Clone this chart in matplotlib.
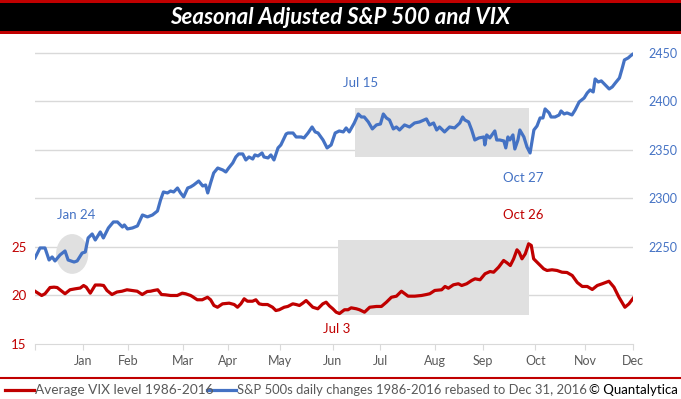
import numpy as np
import matplotlib
matplotlib.use('Agg')
import matplotlib.pyplot as plt
from matplotlib.patches import Rectangle, Ellipse
from matplotlib.lines import Line2D

plt.rcParams['font.family'] = ['Lato', 'DejaVu Sans']

# Month labels placed at the last trading day of each month
MONTHS = ['Jan', 'Feb', 'Mar', 'Apr', 'May', 'Jun', 'Jul', 'Aug', 'Sep', 'Oct', 'Nov', 'Dec']
TRADING_DAYS = [20, 19, 23, 19, 22, 22, 20, 23, 20, 22, 21, 20]

# S&P 500 seasonal path (trading day, index level)
SPX_DAY = [0, 2.1, 4.2, 5.9, 7.2, 8.4, 10.5, 12.6, 13.9, 16.4, 17.7, 19.8, 21.1, 22.3, 24.0,
           25.3, 27.4, 28.7, 30.8, 32.9, 34.6, 36.7, 37.5, 38.8, 40.9, 43.0, 45.1, 47.2, 49.3,
           51.4, 52.7, 53.9, 55.6, 56.9, 58.2, 59.8, 61.1, 62.4, 64.1, 65.3, 66.6, 68.7, 70.4,
           71.6, 72.5, 73.7, 75.0, 76.7, 78.8, 80.1, 81.3, 83.0, 84.3, 85.5, 87.2, 88.5, 89.8,
           91.4, 92.3, 93.6, 95.3, 96.1, 97.8, 99.0, 100.3, 102.0, 103.2, 105.4, 106.2, 108.3,
           109.6, 111.7, 112.9, 114.6, 116.3, 117.6, 118.8, 120.9, 122.6, 124.3, 126.0, 127.7,
           129.4, 130.6, 131.9, 134.0, 135.7, 137.0, 138.2, 139.9, 141.6, 143.3, 145.0, 146.2,
           147.5, 148.8, 150.4, 151.7, 153.0, 155.1, 157.2, 159.3, 161.4, 164.3, 165.6, 167.3,
           168.6, 169.8, 171.9, 174.0, 176.1, 178.3, 179.5, 180.4, 182.0, 183.3, 184.6, 186.3,
           188.4, 188.8, 189.6, 190.9, 193.0, 193.8, 195.1, 196.8, 197.6, 198.5, 199.3, 200.6,
           201.4, 202.7, 203.5, 205.2, 206.5, 207.8, 209.4, 210.7, 212.0, 213.2, 214.1, 215.8,
           216.6, 218.3, 220.0, 220.8, 222.1, 223.3, 225.4, 226.7, 228.4, 230.5, 231.8, 233.0,
           234.3, 235.1, 236.4, 237.7, 239.4, 241.0, 242.3, 243.6, 245.3, 246.5, 247.4, 249.0,
           249.9, 251.0, 251.6]
SPX_VALUE = [2238.7, 2249.0, 2249.0, 2236.6, 2239.7, 2235.6, 2241.8, 2245.9, 2236.6, 2234.5,
             2235.6, 2243.8, 2244.8, 2259.3, 2263.4, 2257.2, 2265.5, 2259.3, 2269.6, 2275.8,
             2275.8, 2270.6, 2272.7, 2268.6, 2269.6, 2271.7, 2283.0, 2281.0, 2283.0, 2287.1,
             2298.5, 2306.7, 2305.7, 2307.7, 2306.7, 2310.8, 2305.7, 2301.6, 2310.8, 2311.9,
             2313.9, 2318.0, 2312.9, 2313.9, 2305.7, 2316.0, 2326.3, 2331.4, 2329.4, 2327.3,
             2331.4, 2336.6, 2342.8, 2345.9, 2345.9, 2339.7, 2342.8, 2340.7, 2344.9, 2343.8,
             2346.9, 2342.8, 2341.8, 2344.9, 2339.7, 2352.1, 2355.2, 2366.5, 2367.5, 2367.5,
             2363.4, 2363.4, 2362.4, 2367.5, 2373.7, 2368.6, 2367.5, 2360.3, 2352.1, 2355.2,
             2367.5, 2369.6, 2368.6, 2372.7, 2368.6, 2377.8, 2387.1, 2384.0, 2384.0, 2378.9,
             2371.7, 2375.8, 2376.8, 2387.1, 2383.0, 2380.9, 2371.7, 2373.7, 2370.6, 2375.8,
             2373.7, 2377.8, 2378.9, 2382.0, 2375.8, 2377.8, 2370.6, 2373.7, 2368.6, 2373.7,
             2372.7, 2377.8, 2384.0, 2380.9, 2378.9, 2370.6, 2360.3, 2362.4, 2363.4, 2355.2,
             2365.5, 2362.4, 2369.6, 2360.3, 2360.3, 2359.3, 2352.1, 2363.4, 2360.3, 2365.5,
             2351.0, 2360.3, 2370.6, 2363.4, 2353.1, 2346.9, 2370.6, 2374.7, 2383.0, 2383.0,
             2392.3, 2388.2, 2384.0, 2384.0, 2386.1, 2390.2, 2387.1, 2388.2, 2386.1, 2391.2,
             2399.5, 2403.6, 2408.8, 2411.9, 2409.8, 2423.2, 2420.1, 2421.2, 2417.0, 2412.9,
             2415.0, 2419.1, 2424.2, 2434.5, 2442.8, 2444.9, 2446.9, 2449.0, 2448.0]

# Average VIX seasonal path (trading day, VIX level)
VIX_DAY = [0, 2.8, 4.2, 6.3, 8.0, 9.3, 10.5, 12.6, 14.7, 16.9, 19.0, 20.4, 21.5, 23.2, 25.3,
           27.4, 28.8, 30.2, 32.3, 34.4, 36.5, 38.6, 40.7, 42.9, 45.0, 47.1, 48.5, 49.9, 51.5,
           53.1, 54.8, 56.9, 59.7, 61.8, 63.2, 65.3, 66.0, 68.1, 70.2, 72.4, 73.7, 75.1, 76.6,
           78.7, 81.5, 83.6, 85.0, 86.4, 87.8, 89.2, 91.3, 92.7, 94.1, 95.5, 97.6, 99.7, 101.1,
           102.5, 104.6, 106.1, 108.2, 109.6, 111.0, 112.4, 113.8, 115.2, 116.6, 118.7, 120.8,
           122.2, 123.6, 125.0, 126.4, 127.8, 129.9, 131.4, 132.7, 134.9, 136.2, 138.3, 140.5,
           143.3, 145.4, 147.5, 149.6, 151.7, 153.8, 155.2, 156.6, 159.4, 162.2, 164.3, 165.7,
           167.8, 170.7, 172.1, 173.5, 175.6, 177.7, 179.1, 181.2, 183.3, 184.7, 186.8, 188.9,
           191.0, 192.5, 194.6, 196.7, 198.1, 199.5, 200.9, 202.3, 203.2, 204.4, 205.8, 207.2,
           208.3, 209.3, 211.4, 213.5, 214.9, 217.0, 219.1, 221.2, 223.3, 225.5, 227.6, 229.7,
           231.8, 233.9, 236.0, 238.1, 240.9, 243.0, 245.1, 247.6, 249.3, 251.4]
VIX_VALUE = [20.44, 20.00, 20.18, 20.82, 20.86, 20.82, 20.59, 20.18, 20.59, 20.69, 20.77, 21.03,
             20.86, 20.24, 21.08, 21.08, 21.03, 20.52, 20.10, 20.36, 20.44, 20.59, 20.52, 20.44,
             20.10, 20.41, 20.44, 20.52, 20.59, 20.10, 20.07, 20.00, 20.00, 20.24, 20.18, 20.00,
             19.90, 19.56, 19.56, 19.82, 19.56, 18.97, 18.79, 19.14, 19.21, 19.07, 18.79, 19.14,
             19.66, 19.41, 19.41, 19.56, 19.14, 19.07, 19.07, 18.79, 18.45, 18.53, 18.79, 18.87,
             19.14, 19.07, 18.97, 19.21, 19.48, 19.14, 18.79, 18.63, 19.14, 19.31, 18.92, 18.63,
             18.28, 18.14, 18.53, 18.53, 18.73, 18.63, 18.53, 18.28, 18.79, 18.87, 18.87, 19.31,
             19.82, 19.93, 20.44, 20.18, 19.93, 19.93, 20.00, 20.10, 20.18, 20.52, 20.59, 20.93,
             20.75, 21.10, 21.21, 21.03, 21.21, 21.55, 21.72, 21.62, 22.24, 22.47, 22.40, 22.92,
             23.61, 23.37, 23.09, 23.78, 24.71, 24.46, 23.78, 24.30, 25.33, 25.16, 23.78, 23.27,
             22.75, 22.58, 22.65, 22.58, 22.40, 22.37, 22.06, 21.34, 20.93, 20.93, 20.62, 21.03,
             21.21, 21.47, 20.86, 19.82, 18.79, 19.14, 19.82]

VIX_TICKS = [15, 20, 25]
SPX_TICKS = [2250, 2300, 2350, 2400, 2450]

RED = '#c00000'
BLUE = '#4472c4'
GRID = '#d9d9d9'
SHADE = '#e0e0e0'

fig = plt.figure(figsize=(6.81, 3.99), dpi=100)

# Title band with red borders
fig.patches.append(Rectangle((0, 1 - 34 / 399), 1, 34 / 399, transform=fig.transFigure,
                             facecolor='black', edgecolor='none'))
fig.patches.append(Rectangle((0, 1 - 3 / 399), 1, 3 / 399, transform=fig.transFigure,
                             facecolor=RED, edgecolor='none'))
fig.patches.append(Rectangle((0, 1 - 34 / 399), 1, 3 / 399, transform=fig.transFigure,
                             facecolor=RED, edgecolor='none'))
fig.text(0.5, 1 - 18 / 399, 'Seasonal Adjusted S&P 500 and VIX', color='white',
         fontsize=16, fontweight='bold', fontstyle='italic', ha='center', va='center')

ax = fig.add_axes([35 / 681, 55 / 399, 598 / 681, 302 / 399])
ax2 = ax.twinx()

ticks = np.cumsum(TRADING_DAYS)
ax.set_xlim(0, ticks[-1])
ax.set_ylim(15, 46.13)
ax2.set_ylim(2150, 2461.3)

# horizontal gridlines (shared by both scales)
for g in range(20, 50, 5):
    ax.axhline(g, color=GRID, lw=1, zorder=0)

# highlighted regions
ax.add_patch(Rectangle((127.3, 18.04), 80, 7.73, facecolor=SHADE, edgecolor='none', zorder=1))
ax2.add_patch(Rectangle((134.4, 2342.8), 72.9, 50.5, facecolor=SHADE, edgecolor='none', zorder=1))
ax2.add_patch(Ellipse((15.6, 2242.8), 13.5, 41, facecolor=SHADE, edgecolor='none', zorder=1))

ax.plot(VIX_DAY, VIX_VALUE, color=RED, lw=2.3, zorder=3, solid_joinstyle='round')
ax2.plot(SPX_DAY, SPX_VALUE, color=BLUE, lw=2.3, zorder=3, solid_joinstyle='round')

# annotations
ax2.text(17.3, 2283, 'Jan 24', color=BLUE, fontsize=9.5, ha='center', va='center')
ax2.text(136.5, 2419, 'Jul 15', color=BLUE, fontsize=9.5, ha='center', va='center')
ax2.text(204.8, 2321, 'Oct 27', color=BLUE, fontsize=9.5, ha='center', va='center')
ax.text(204.8, 28.25, 'Oct 26', color=RED, fontsize=9.5, ha='center', va='center')
ax.text(126.8, 16.5, 'Jul 3', color=RED, fontsize=9.5, ha='center', va='center')

# axes styling
ax.set_xticks(np.concatenate([[0], ticks]))
ax.set_xticklabels([''] + MONTHS, color='#595959', fontsize=9)
ax.tick_params(axis='x', length=4, color=GRID, pad=4)
ax.set_yticks(VIX_TICKS)
ax.set_yticklabels([str(v) for v in VIX_TICKS], color=RED, fontsize=9.5)
ax.tick_params(axis='y', length=0, pad=6)
ax2.set_yticks(SPX_TICKS)
ax2.set_yticklabels([str(v) for v in SPX_TICKS], color=BLUE, fontsize=9)
ax2.tick_params(axis='y', length=0, pad=11)
for a in (ax, ax2):
    for s in ('top', 'left', 'right', 'bottom'):
        a.spines[s].set_visible(False)
ax.spines['bottom'].set_visible(True)
ax.spines['bottom'].set_color(GRID)
ax2.patch.set_visible(False)

# bottom separator and legend
fig.add_artist(Line2D([0, 1], [1 - 378 / 399] * 2, transform=fig.transFigure, color=RED, lw=1.5))
ly = 1 - 390 / 399
fig.add_artist(Line2D([5 / 681, 34 / 681], [ly, ly], transform=fig.transFigure, color=RED, lw=2.3))
fig.text(35 / 681, ly, 'Average VIX level 1986-2016', color='#595959', fontsize=9.8, va='center')
fig.add_artist(Line2D([207 / 681, 236 / 681], [ly, ly], transform=fig.transFigure, color=BLUE, lw=2.3))
fig.text(237 / 681, ly, 'S&P 500s daily changes 1986-2016 rebased to Dec 31, 2016', color='#595959',
         fontsize=9.4, va='center')
fig.text(678 / 681, ly, '© Quantalytica', color='black', fontsize=9.5, ha='right', va='center')

fig.savefig('out.png', dpi=100)
